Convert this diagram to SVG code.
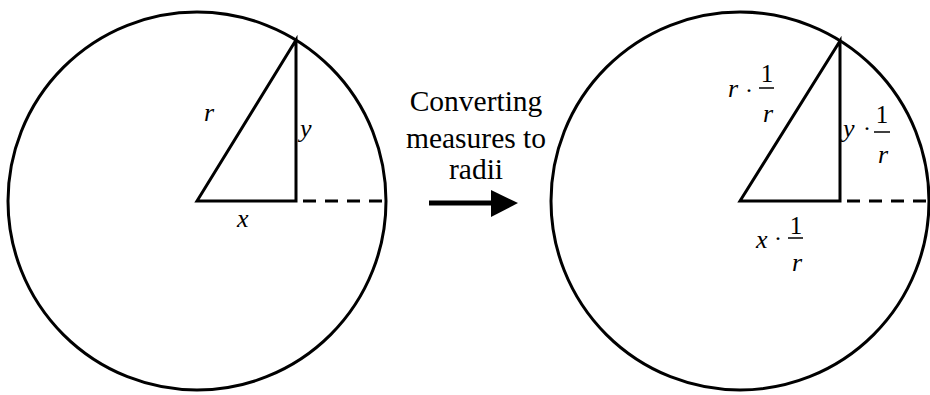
<svg xmlns="http://www.w3.org/2000/svg" width="930" height="395" viewBox="0 0 930 395">
<style>
.ln{fill:none;stroke:#000;stroke-width:3}
.dash{fill:none;stroke:#000;stroke-width:3;stroke-dasharray:13 9}
.it{font-family:'Liberation Serif','Times New Roman',serif;font-style:italic;font-size:26px;fill:#000}
.rm{font-family:'Liberation Serif','Times New Roman',serif;font-size:25px;fill:#000}
.dot{font-family:'Liberation Serif','Times New Roman',serif;font-size:24px;fill:#000}
.lbl{font-family:'Liberation Serif','Times New Roman',serif;font-size:29.5px;fill:#000;text-anchor:middle}
.bar{stroke:#000;stroke-width:1.5}
.c{text-anchor:middle}
</style>
<rect width="930" height="395" fill="#fff"/>
<g id="left-circle">
<circle class="ln" cx="197" cy="201" r="189"/>
<polygon class="ln" points="197,201 296,40 296,201"/>
<line class="dash" x1="303" y1="201" x2="386" y2="201"/>
<text class="it" x="204" y="121">r</text>
<text class="it" x="300" y="137">y</text>
<text class="it" x="237" y="227">x</text>
</g>
<g id="arrow-label">
<text class="lbl" x="476" y="111">Converting</text>
<text class="lbl" x="476" y="148">measures to</text>
<text class="lbl" x="476" y="179">radii</text>
</g>
<g id="connectors">
<line x1="429" y1="203" x2="495" y2="203" stroke="#000" stroke-width="5"/>
<polygon points="491,190 518,203 491,217" fill="#000"/>
</g>
<g id="right-circle">
<circle class="ln" cx="740" cy="201" r="189"/>
<polygon class="ln" points="740,201 840,41 840,201"/>
<line class="dash" x1="847" y1="201" x2="929" y2="201"/>
<text class="it" x="728" y="97">r</text>
<text class="dot" x="745" y="98">·</text>
<line class="bar" x1="759" y1="88" x2="774" y2="88"/>
<text class="rm c" x="767" y="82">1</text>
<text class="it c" x="768" y="122">r</text>
<text class="it" x="843" y="137">y</text>
<text class="dot" x="863" y="136">·</text>
<line class="bar" x1="874" y1="132" x2="890" y2="132"/>
<text class="rm c" x="882" y="123">1</text>
<text class="it c" x="883" y="163">r</text>
<text class="it" x="756" y="248">x</text>
<text class="dot" x="774" y="246">·</text>
<line class="bar" x1="788" y1="238" x2="803" y2="238"/>
<text class="rm c" x="796" y="234">1</text>
<text class="it c" x="797" y="271">r</text>
</g>
</svg>
